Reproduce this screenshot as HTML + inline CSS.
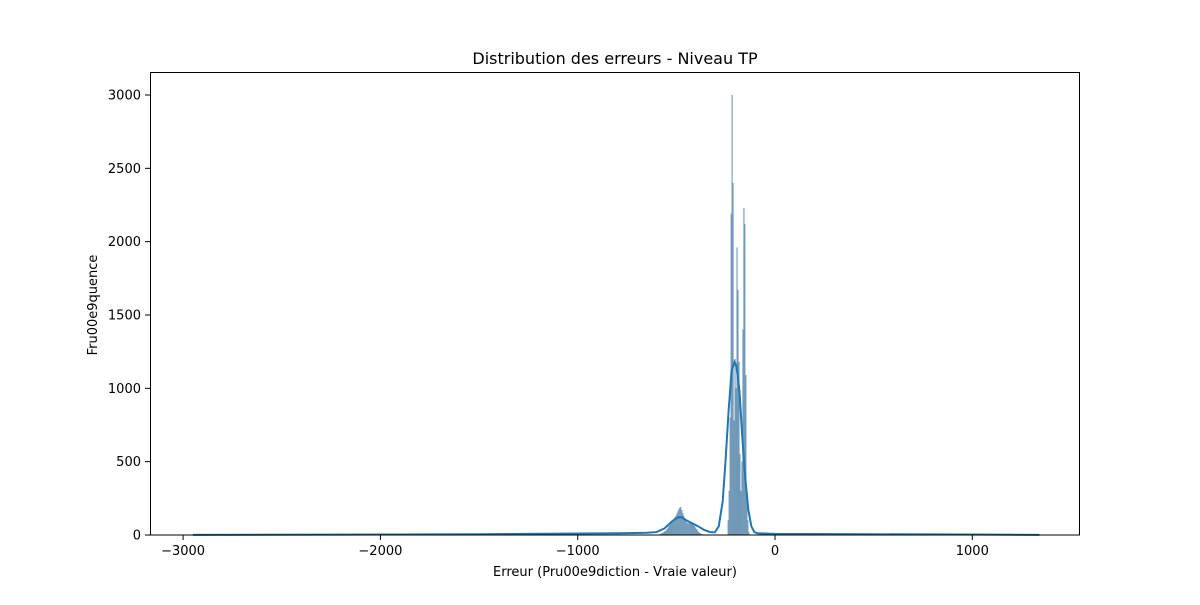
<!DOCTYPE html>
<html><head><meta charset="utf-8"><style>
body{margin:0;background:#fff;font-family:"Liberation Sans","DejaVu Sans",sans-serif;}
svg text{font-family:"DejaVu Sans","Liberation Sans",sans-serif;fill:#000;}
</style></head><body>
<svg id="chart" width="1200" height="600">
<rect width="1200" height="600" fill="#fff"/>
<text x="615" y="64" font-size="16" text-anchor="middle">Distribution des erreurs - Niveau TP</text>
<g id="bars"></g>
<g id="kde"></g>
<rect x="150.5" y="72.5" width="929" height="462.5" fill="none" stroke="#000" stroke-width="1"/>
<g id="xt"></g>
<g id="yt"></g>
<text x="615" y="576" font-size="13" text-anchor="middle">Erreur (Pru00e9diction - Vraie valeur)</text>
<text transform="translate(97,305) rotate(-90)" font-size="13" text-anchor="middle">Fru00e9quence</text>
</svg>
<script>
const binWidth = 5;
const humpStart = -600;
const humpCounts = [1,2,3,5,8,12,16,20,25,30,40,50,60,70,80,90,100,110,120,130,145,160,175,185,190,170,150,130,110,95,85,80,78,82,85,80,75,70,60,50,40,30,22,15,10,6,4,3,2,1,1,1];
const peakStart = -240;
const peakCounts = [100,300,800,2190,3000,2400,780,1200,1000,1960,1670,1180,550,300,500,1400,2230,2120,1090,300,100,20];
const kdeX = [-2950,-2000,-1500,-1000,-800,-650,-600,-560,-520,-490,-470,-450,-420,-390,-360,-330,-305,-285,-265,-250,-235,-220,-205,-195,-180,-165,-150,-135,-120,-105,-90,-50,0,500,1000,1340];
const kdeY = [1,3,5,10,12,15,20,45,95,122,120,100,80,60,35,20,18,60,230,520,850,1120,1180,1150,980,650,380,170,60,20,12,10,8,5,3,1];
const xTicks = [-3000,-2000,-1000,0,1000];
const yTicks = [0,500,1000,1500,2000,2500,3000];
const NS="http://www.w3.org/2000/svg";
const xs=v=>775+v*0.1973, ys=v=>535-v*0.14667;
const bars=document.getElementById('bars');
function drawBars(start,counts){
 counts.forEach((c,i)=>{
  const x0=xs(start+i*binWidth), x1=xs(start+(i+1)*binWidth);
  const r=document.createElementNS(NS,'rect');
  r.setAttribute('x',x0);r.setAttribute('width',x1-x0);
  r.setAttribute('y',ys(c));r.setAttribute('height',535-ys(c));
  r.setAttribute('fill','rgba(40,110,160,0.6)');r.setAttribute('stroke','rgba(60,90,120,0.35)');r.setAttribute('stroke-width','0.3');
  
  
  bars.appendChild(r);
 });
}
drawBars(humpStart,humpCounts);
drawBars(peakStart,peakCounts);
const p=document.createElementNS(NS,'polyline');
p.setAttribute('points',kdeX.map((x,i)=>xs(x)+','+ys(kdeY[i])).join(' '));
p.setAttribute('fill','none');p.setAttribute('stroke','#1f77b4');p.setAttribute('stroke-width','2');


document.getElementById('kde').appendChild(p);
const xt=document.getElementById('xt');
xTicks.forEach(v=>{
 const l=document.createElementNS(NS,'line');
 l.setAttribute('x1',xs(v));l.setAttribute('x2',xs(v));l.setAttribute('y1',535);l.setAttribute('y2',540);l.setAttribute('stroke','#000');
 
 
 xt.appendChild(l);
 const t=document.createElementNS(NS,'text');
 t.setAttribute('x',xs(v));t.setAttribute('y',555);t.setAttribute('font-size','13');t.setAttribute('text-anchor','middle');
 t.textContent=(v<0?'\u2212':'')+Math.abs(v);
 
 
 xt.appendChild(t);
});
const yt=document.getElementById('yt');
yTicks.forEach(v=>{
 const l=document.createElementNS(NS,'line');
 l.setAttribute('x1',145);l.setAttribute('x2',150);l.setAttribute('y1',ys(v));l.setAttribute('y2',ys(v));l.setAttribute('stroke','#000');
 
 
 yt.appendChild(l);
 const t=document.createElementNS(NS,'text');
 t.setAttribute('x',141);t.setAttribute('y',ys(v)+4.5);t.setAttribute('font-size','13');t.setAttribute('text-anchor','end');
 t.textContent=v;
 
 
 yt.appendChild(t);
});
</script>
</body></html>
